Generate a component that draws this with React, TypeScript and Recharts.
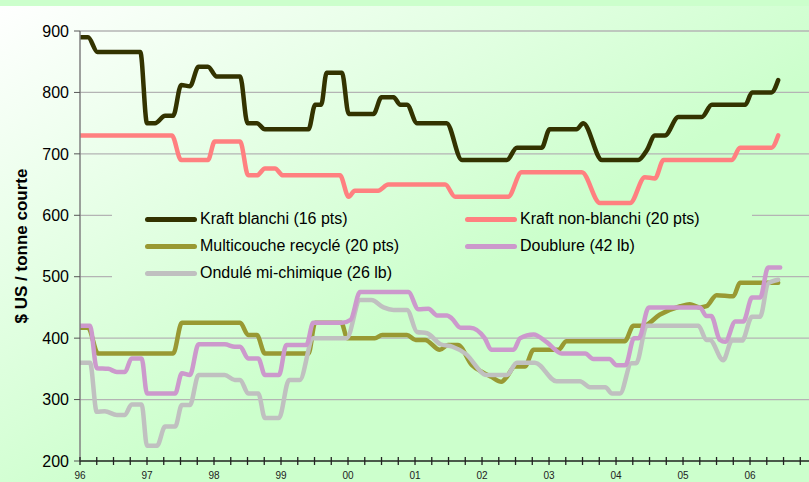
import { CartesianGrid, Line, LineChart, XAxis, YAxis } from "recharts";

type Pt = [number, number];

// années (96 = 1996 ... 106 = 2006), valeurs en $ US / tonne courte
const yearLabels = ["96", "97", "98", "99", "00", "01", "02", "03", "04", "05", "06"];
const yTicks = [200, 300, 400, 500, 600, 700, 800, 900];
const quarterTicks = Array.from({ length: 44 }, (_, i) => 96 + i * 0.25);

const kraftBlanchi: Pt[] = [
    [96.0, 890], [96.12, 890], [96.26, 866], [96.9, 866], [97.0, 750], [97.12, 750], [97.27, 762], [97.39, 762],
    [97.51, 812], [97.64, 810], [97.77, 842], [97.91, 842], [98.04, 826], [98.39, 826], [98.5, 750], [98.64, 750],
    [98.76, 740], [99.41, 740], [99.51, 780], [99.6, 780], [99.68, 832], [99.91, 832], [100.01, 765], [100.38, 765],
    [100.5, 792], [100.68, 792], [100.78, 780], [100.88, 780], [101.03, 750], [101.47, 750], [101.7, 690], [102.37, 690],
    [102.52, 710], [102.89, 710], [103.01, 740], [103.41, 740], [103.51, 750], [103.79, 690], [104.33, 690], [104.46, 706],
    [104.58, 730], [104.73, 730], [104.93, 760], [105.28, 760], [105.43, 780], [105.93, 780], [106.03, 800], [106.32, 800],
    [106.42, 820],
];

const kraftNonBlanchi: Pt[] = [
    [96.0, 730], [97.37, 730], [97.51, 690], [97.91, 690], [98.01, 720], [98.39, 720], [98.51, 665], [98.64, 665],
    [98.76, 676], [98.91, 676], [99.03, 665], [99.88, 665], [100.01, 630], [100.1, 640], [100.45, 640], [100.6, 650],
    [101.45, 650], [101.6, 630], [102.39, 630], [102.59, 670], [103.49, 670], [103.76, 620], [104.21, 620], [104.43, 662],
    [104.58, 660], [104.71, 690], [105.73, 690], [105.85, 710], [106.32, 710], [106.42, 730],
];

const multicouche: Pt[] = [
    [96.0, 417], [96.12, 417], [96.27, 375], [97.39, 375], [97.52, 425], [98.39, 425], [98.51, 405], [98.64, 405],
    [98.76, 375], [99.41, 375], [99.51, 425], [99.9, 425], [99.99, 400], [100.4, 400], [100.51, 405], [100.88, 405],
    [101.01, 397], [101.15, 397], [101.37, 381], [101.49, 389], [101.64, 389], [101.85, 356], [102.0, 345], [102.14, 337],
    [102.29, 329], [102.37, 337], [102.49, 354], [102.64, 354], [102.77, 381], [103.14, 381], [103.26, 395], [104.13, 395],
    [104.26, 420], [104.41, 420], [104.65, 438], [104.96, 452], [105.1, 455], [105.25, 450], [105.35, 452], [105.5, 470],
    [105.75, 468], [105.85, 490], [106.42, 490],
];

const doublure: Pt[] = [
    [96.0, 420], [96.15, 420], [96.25, 351], [96.42, 350], [96.55, 345], [96.67, 345], [96.77, 367], [96.92, 367],
    [97.0, 310], [97.42, 310], [97.52, 343], [97.64, 340], [97.77, 390], [98.16, 390], [98.31, 386], [98.39, 386],
    [98.51, 367], [98.66, 367], [98.76, 340], [98.97, 340], [99.08, 389], [99.38, 389], [99.48, 425], [99.91, 425],
    [100.04, 430], [100.18, 475], [100.9, 475], [101.05, 447], [101.2, 448], [101.33, 437], [101.48, 437], [101.55, 432],
    [101.68, 417], [101.82, 417], [102.04, 400], [102.14, 381], [102.47, 381], [102.57, 400], [102.77, 406], [102.97, 393],
    [103.19, 375], [103.54, 375], [103.66, 366], [103.9, 366], [104.01, 356], [104.14, 356], [104.27, 400], [104.34, 400],
    [104.49, 450], [105.25, 450], [105.35, 436], [105.42, 436], [105.55, 397], [105.63, 394], [105.78, 427], [105.9, 427],
    [106.03, 466], [106.15, 466], [106.27, 515], [106.45, 515],
];

const ondule: Pt[] = [
    [96.0, 360], [96.15, 360], [96.25, 280], [96.37, 281], [96.55, 275], [96.67, 275], [96.77, 292], [96.92, 292],
    [97.0, 225], [97.15, 225], [97.27, 256], [97.42, 256], [97.52, 291], [97.64, 291], [97.77, 340], [98.16, 340],
    [98.31, 332], [98.39, 332], [98.51, 310], [98.66, 310], [98.76, 270], [98.97, 270], [99.12, 332], [99.28, 332],
    [99.48, 400], [99.98, 400], [100.18, 462], [100.35, 462], [100.53, 450], [100.68, 446], [100.88, 446], [101.03, 410],
    [101.18, 408], [101.38, 390], [101.56, 386], [101.75, 375], [102.07, 340], [102.37, 340], [102.52, 360], [102.79, 360],
    [103.11, 330], [103.46, 330], [103.61, 320], [103.84, 320], [103.94, 310], [104.06, 310], [104.23, 359], [104.3, 359],
    [104.46, 420], [105.23, 420], [105.35, 397], [105.4, 397], [105.6, 364], [105.73, 396], [105.88, 396], [106.03, 435],
    [106.15, 435], [106.27, 489], [106.42, 495],
];

const series = [
    { name: "Kraft blanchi (16 pts)", data: kraftBlanchi, color: "#333300" },
    { name: "Kraft non-blanchi (20 pts)", data: kraftNonBlanchi, color: "#ff8080" },
    { name: "Multicouche recyclé (20 pts)", data: multicouche, color: "#999933" },
    { name: "Ondulé mi-chimique (26 lb)", data: ondule, color: "#c0c0c0" },
    { name: "Doublure (42 lb)", data: doublure, color: "#cc99cc" },
];

const FONT = "'Liberation Sans', Arial, sans-serif";
const BG = "linear-gradient(to bottom right, #ffffff 0%, #ccffcc 58%) fixed";

function YearTick({ x, y, payload }: any) {
    const v: number = payload.value;
    const isYear = Math.abs(v - Math.round(v)) < 1e-6;
    return (
        <g>
            <line x1={x} x2={x} y1={y - 4} y2={y + 4} stroke="#222" strokeWidth={1.3} />
            {isYear && (
                <text x={x} y={y + 18} textAnchor="middle" fontSize={10} fill="#222" fontFamily={FONT}>
                    {yearLabels[Math.round(v) - 96]}
                </text>
            )}
        </g>
    );
}

function LegendItem({ name, color, left, top }: { name: string; color: string; left: number; top: number }) {
    return (
        <div style={{ position: "absolute", left, top: top - 10, height: 20, display: "flex", alignItems: "center", whiteSpace: "nowrap" }}>
            <span style={{ display: "inline-block", width: 52, height: 5, borderRadius: 3, background: color }} />
            <span style={{ marginLeft: 3, fontSize: 16, color: "#000" }}>{name}</span>
        </div>
    );
}

export default function App() {
    const rows = series.map((s) => ({ ...s, rows: s.data.map(([t, v]) => ({ t, v })) }));
    const byName = (n: string) => series.find((s) => s.name.startsWith(n))!;

    return (
        <div style={{ position: "absolute", left: 0, top: 0, width: 809, height: 482, background: BG, fontFamily: FONT, overflow: "hidden" }}>
            <div style={{ position: "absolute", left: 0, top: 0, width: 809, height: 6, background: "#ccffcc" }} />
            <LineChart width={809} height={482} margin={{ top: 31, right: 0, bottom: 0, left: 0 }}>
                <CartesianGrid horizontal vertical={false} stroke="#b4b4b4" strokeWidth={1.3} />
                <XAxis
                    dataKey="t"
                    type="number"
                    domain={[96, 106.88]}
                    ticks={quarterTicks}
                    interval={0}
                    allowDataOverflow
                    height={21}
                    tickSize={0}
                    tickMargin={0}
                    tickLine={false}
                    tick={<YearTick />}
                    axisLine={{ stroke: "#4a5a4a", strokeWidth: 2 }}
                />
                <YAxis
                    type="number"
                    domain={[200, 900]}
                    ticks={yTicks}
                    interval={0}
                    width={80}
                    tickSize={6}
                    tickMargin={5}
                    tick={{ fontSize: 16, fill: "#000", fontFamily: FONT }}
                    tickLine={{ stroke: "#555" }}
                    axisLine={{ stroke: "#808080", strokeWidth: 1.5 }}
                />
                {rows.map((s) => (
                    <Line
                        key={s.name}
                        data={s.rows}
                        dataKey="v"
                        type="monotone"
                        stroke={s.color}
                        strokeWidth={4.5}
                        strokeLinecap="round"
                        strokeLinejoin="round"
                        dot={false}
                        activeDot={false}
                        isAnimationActive={false}
                    />
                ))}
            </LineChart>

            {/* la légende masque les lignes de grille 500 et 600 */}
            <div style={{ position: "absolute", left: 112, top: 207, width: 640, height: 73, background: BG }}>
                <LegendItem {...byName("Kraft blanchi")} left={33} top={12} />
                <LegendItem {...byName("Kraft non")} left={353} top={12} />
                <LegendItem {...byName("Multicouche")} left={33} top={39} />
                <LegendItem {...byName("Doublure")} left={353} top={39} />
                <LegendItem {...byName("Ondulé")} left={33} top={66} />
            </div>

            <div
                style={{
                    position: "absolute",
                    left: 22,
                    top: 246,
                    transform: "translate(-50%, -50%) rotate(-90deg)",
                    whiteSpace: "nowrap",
                    fontWeight: "bold",
                    fontSize: 17,
                    color: "#000",
                }}
            >
                $ US / tonne courte
            </div>
        </div>
    );
}
